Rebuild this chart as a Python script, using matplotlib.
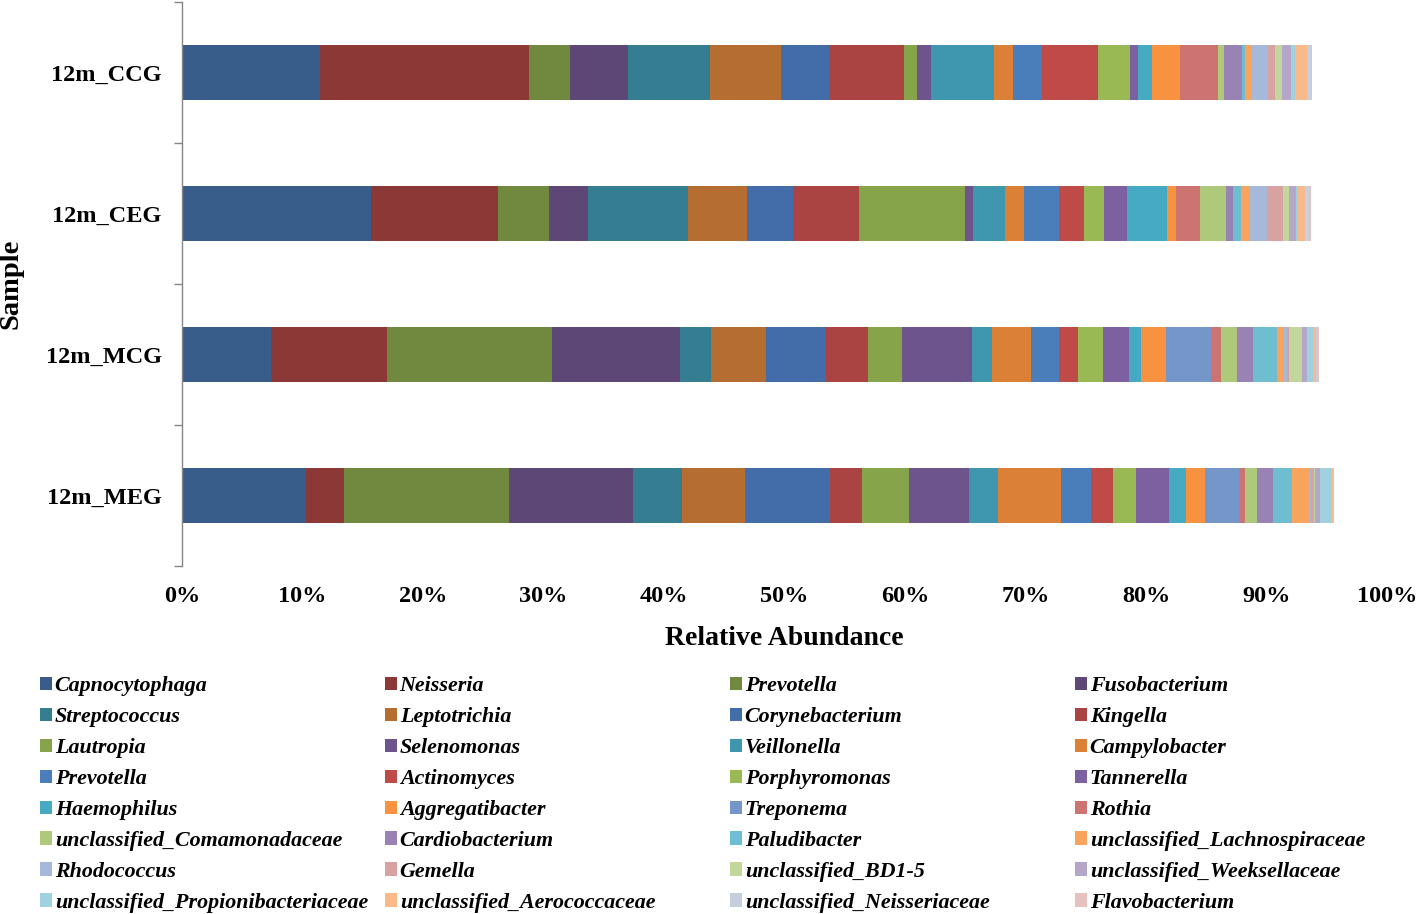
import numpy as np
import matplotlib
matplotlib.use("Agg")
import matplotlib.pyplot as plt
from matplotlib.patches import Patch
from matplotlib.font_manager import FontProperties

plt.rcParams['font.family'] = ['Liberation Serif', 'DejaVu Serif']
plt.rcParams['font.weight'] = 'bold'

samples = ["12m_CCG", "12m_CEG", "12m_MCG", "12m_MEG"]

genera = ["Capnocytophaga", "Neisseria", "Prevotella", "Fusobacterium",
          "Streptococcus", "Leptotrichia", "Corynebacterium", "Kingella",
          "Lautropia", "Selenomonas", "Veillonella", "Campylobacter",
          "Prevotella", "Actinomyces", "Porphyromonas", "Tannerella",
          "Haemophilus", "Aggregatibacter", "Treponema", "Rothia",
          "unclassified_Comamonadaceae", "Cardiobacterium", "Paludibacter", "unclassified_Lachnospiraceae",
          "Rhodococcus", "Gemella", "unclassified_BD1-5", "unclassified_Weeksellaceae",
          "unclassified_Propionibacteriaceae", "unclassified_Aerococcaceae", "unclassified_Neisseriaceae", "Flavobacterium"]

colors = ["#385D8A", "#8C3836", "#71893F", "#5C4776",
          "#357D91", "#B66D31", "#426DA9", "#A94442",
          "#86A44A", "#6E548D", "#3E96AF", "#DA8137",
          "#4A7EBB", "#BE4B48", "#98B954", "#7D60A0",
          "#46AAC5", "#F69240", "#7596C8", "#CD7371",
          "#AFC97A", "#9983B5", "#6FBDD1", "#F8A45F",
          "#A7B9DA", "#D7A2A1", "#C3D69B", "#B3A6C8",
          "#9FD1DE", "#FAB98B", "#C5CFE0", "#E6C1C0"]

# relative abundance (%) per genus, same order as `genera`
ccg = [11.49, 17.31, 3.43, 4.76, 6.86, 5.89, 3.95, 6.22,
       1.08, 1.16, 5.23, 1.58, 2.41, 4.65, 2.66, 0.66,
       1.16, 2.32, 0.00, 3.13, 0.52, 1.49, 0.25, 0.58,
       1.35, 0.58, 0.53, 0.77, 0.33, 1.02, 0.31, 0.11]
ceg = [15.71, 10.55, 4.16, 3.24, 8.35, 4.90, 3.76, 5.49,
       8.83, 0.66, 2.66, 1.54, 2.90, 2.07, 1.68, 1.93,
       3.32, 0.77, 0.00, 1.96, 2.16, 0.61, 0.61, 0.77,
       1.44, 1.28, 0.50, 0.61, 0.19, 0.58, 0.33, 0.17]
mcg = [7.36, 9.68, 13.66, 10.61, 2.57, 4.61, 4.96, 3.47,
       2.84, 5.78, 1.72, 3.23, 2.26, 1.60, 2.07, 2.16,
       1.04, 2.02, 3.76, 0.80, 1.35, 1.30, 2.02, 0.61,
       0.20, 0.22, 1.05, 0.39, 0.61, 0.19, 0.14, 0.06]
meg = [10.28, 3.18, 13.68, 10.26, 4.10, 5.24, 7.03, 2.66,
       3.88, 4.98, 2.41, 5.24, 2.51, 1.78, 1.98, 2.70,
       1.42, 1.60, 2.79, 0.47, 1.02, 1.33, 1.55, 1.44,
       0.20, 0.19, 0.14, 0.36, 0.97, 0.13, 0.06, 0.04]

xticks = [0, 10, 20, 30, 40, 50, 60, 70, 80, 90, 100]
xticklabels = [f"{v}%" for v in xticks]

W, H = 1418, 914
fig = plt.figure(figsize=(W / 100, H / 100), dpi=100)
ax = fig.add_axes([182 / W, 1 - 566 / H, (1387 - 182) / W, (566 - 2) / H])

data = np.array([ccg, ceg, mcg, meg])
ypos = np.arange(len(samples))
left = np.zeros(len(samples))
handles = []
for j, (name, col) in enumerate(zip(genera, colors)):
    ax.barh(ypos, data[:, j], left=left, height=0.39, color=col, linewidth=0)
    left += data[:, j]
    handles.append(Patch(facecolor=col, edgecolor='none', label=name))

ax.set_xlim(0, 100)
ax.set_ylim(3.5, -0.5)
ax.set_xticks(xticks)
ax.set_xticklabels(xticklabels)
ax.tick_params(axis='x', length=0, pad=14.5, labelsize=17.5)
ax.set_yticks(ypos)
ax.set_yticklabels(samples)
ax.tick_params(axis='y', which='major', length=0, pad=14.5, labelsize=17.5)
ax.set_yticks(np.arange(-0.5, 4.0, 1.0), minor=True)
ax.tick_params(axis='y', which='minor', length=6, width=1, color='#868686', direction='out')
for s in ['top', 'right', 'bottom']:
    ax.spines[s].set_visible(False)
ax.spines['left'].set_color('#868686')
ax.spines['left'].set_linewidth(1)

ax.set_xlabel("Relative Abundance", fontsize=20, fontweight='bold')
ax.xaxis.set_label_coords(0.5, -(626 - 566) / 564)
ax.set_ylabel("Sample", fontsize=20.5, fontweight='bold')
ax.yaxis.set_label_coords(-(182 - 24) / 1205, 0.5)

prop = FontProperties(family='Liberation Serif', weight='bold', style='italic', size=15.8)
col_x = [40, 385, 730, 1075]
for c in range(4):
    hs = [handles[r * 4 + c] for r in range(8)]
    fig.legend(handles=hs, loc='upper left', bbox_to_anchor=(col_x[c] / W, 1 - 676 / H),
               frameon=False, prop=prop, handlelength=0.55, handleheight=0.55,
               handletextpad=0.12, labelspacing=0.5, borderpad=0, borderaxespad=0)

fig.savefig("out.png", dpi=100)
